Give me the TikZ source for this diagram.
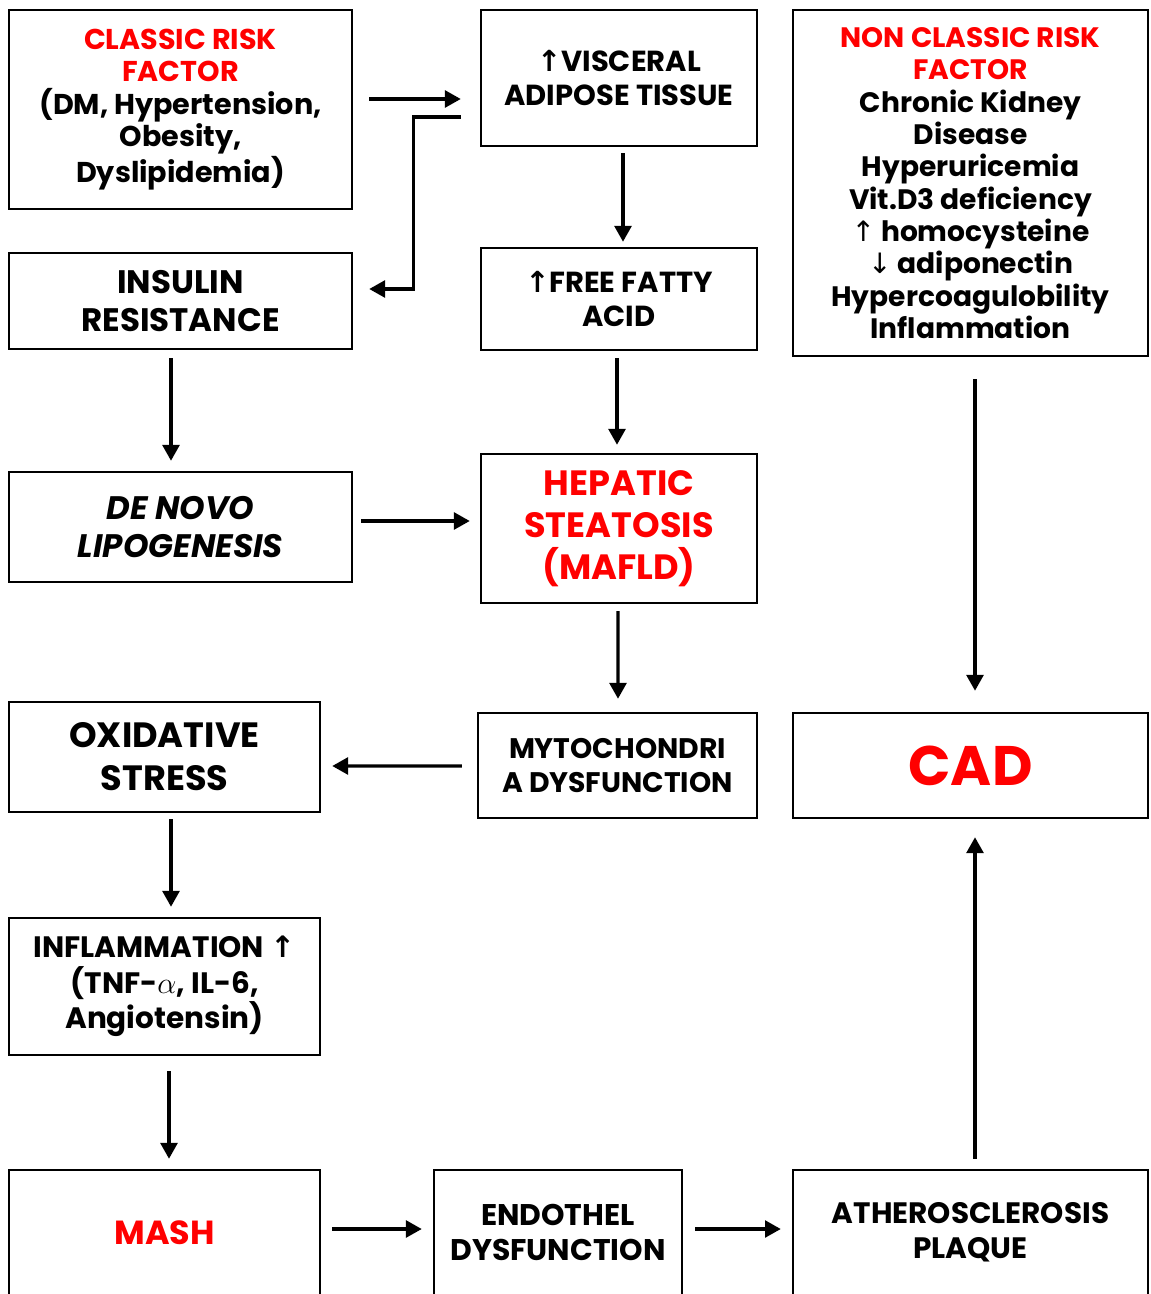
\documentclass[tikz,border=0pt]{standalone}
\usepackage{fontspec}
\setmainfont{Poppins}
\newfontfamily\arrowfont{DejaVu Sans}
\usetikzlibrary{arrows.meta}

\tikzset{
  box/.style={draw, line width=1.4pt, align=center, inner sep=2pt},
  txt/.style 2 args={font=\bfseries\fontsize{#1}{#2}\selectfont},
  redtxt/.style={text=red},
  arr/.style={line width=1.9pt, -{Triangle[length=9pt,width=9.5pt]}}
}
\newcommand{\up}{{\arrowfont\bfseries ↑}}
\newcommand{\thinup}{{\arrowfont\mdseries ↑}}
\newcommand{\thindown}{{\arrowfont\mdseries ↓}}

\begin{document}
\begin{tikzpicture}[x=0.02cm, y=-0.02cm]
\useasboundingbox (0,0) rectangle (1150,1294);
\clip (0,0) rectangle (1150,1294);

% first row
\node [box, txt={16.3}{18.4}, minimum width=6.86cm, minimum height=3.98cm] (classic) at (180.5,109.5)
  {\textcolor{red}{CLASSIC RISK}\\\textcolor{red}{FACTOR}\\(DM, Hypertension,\\Obesity,\\Dyslipidemia)};
\node [box, txt={16.5}{19.8}, minimum width=5.52cm, minimum height=2.72cm] (visceral) at (619,78)
  {\up VISCERAL\\ADIPOSE TISSUE};
\node [box, txt={16}{18.4}, minimum width=7.10cm, minimum height=6.92cm] (nonclassic) at (970.5,183)
  {\textcolor{red}{NON CLASSIC RISK}\\\textcolor{red}{FACTOR}\\Chronic Kidney\\Disease\\Hyperuricemia\\Vit.D3 deficiency\\\thinup\ homocysteine\\\thindown\ adiponectin\\Hypercoagulobility\\Inflammation};

% second row
\node [box, txt={18.5}{22}, minimum width=6.86cm, minimum height=1.92cm] (insulin) at (180.5,301)
  {INSULIN\\RESISTANCE};
\node [box, txt={16.5}{19.8}, minimum width=5.52cm, minimum height=2.04cm] (ffa) at (619,299)
  {\up FREE FATTY\\ACID};

% third row
\node [box, txt={18.5}{22}, minimum width=6.86cm, minimum height=2.20cm] (denovo) at (180.5,527)
  {\itshape DE NOVO\\\itshape LIPOGENESIS};
\node [box, redtxt, txt={20}{23.8}, minimum width=5.52cm, minimum height=2.98cm] (hepatic) at (619,528.5)
  {HEPATIC\\STEATOSIS\\(MAFLD)};

% fourth row
\node [box, txt={20}{24.4}, minimum width=6.22cm, minimum height=2.20cm] (oxidative) at (164.5,757)
  {OXIDATIVE\\STRESS};
\node [box, txt={16.1}{19.8}, minimum width=5.58cm, minimum height=2.10cm] (mito) at (617.5,765.5)
  {MYTOCHONDRI\\A DYSFUNCTION};
\node [box, redtxt, txt={31.7}{38}, minimum width=7.10cm, minimum height=2.10cm] (cad) at (970.5,765.5)
  {CAD};

% fifth row
\node [box, txt={16.8}{20.1}, minimum width=6.22cm, minimum height=2.74cm] (inflam) at (164.5,986.5)
  {INFLAMMATION \up\\(TNF-$\alpha$, IL-6,\\Angiotensin)};

% last row
\node [box, redtxt, txt={19}{22}, minimum width=6.22cm, minimum height=2.50cm] (mash) at (164.5,1232.5)
  {MASH};
\node [box, txt={17}{19.8}, minimum width=4.96cm, minimum height=2.50cm] (endothel) at (558,1232.5)
  {ENDOTHEL\\DYSFUNCTION};
\node [box, txt={16.8}{19.8}, minimum width=7.10cm, minimum height=2.50cm] (athero) at (970.5,1232.5)
  {ATHEROSCLEROSIS\\PLAQUE};

% arrows
\draw [arr] ([shift={(16,-10.5)}]classic.east) -- ([shift={(-19,21)}]visceral.west);
\draw [arr] ([shift={(-19,39)}]visceral.west) -- ++(-47,0) |- ([shift={(16,-12)}]insulin.east);
\draw [arr] ([shift={(4,6)}]visceral.south) -- ([shift={(4,-5)}]ffa.north);
\draw [arr] ([shift={(-9.5,8)}]insulin.south) -- ([shift={(-9.5,-10)}]denovo.north);
\draw [arr] ([shift={(-2,7)}]ffa.south) -- ([shift={(-2,-8)}]hepatic.north);
\draw [arr] ([shift={(8,-6)}]denovo.east) -- ([shift={(-10,-7.5)}]hepatic.west);
\draw [arr] ([shift={(-1,7)}]hepatic.south) -- ([shift={(0.5,-13)}]mito.north);
\draw [arr] ([shift={(-15,0.5)}]mito.west) -- ([shift={(11,9)}]oxidative.east);
\draw [arr] ([shift={(4.5,22)}]nonclassic.south) -- ([shift={(4.5,-21)}]cad.north);
\draw [arr] ([shift={(6.5,6)}]oxidative.south) -- ([shift={(6.5,-10)}]inflam.north);
\draw [arr] ([shift={(4.5,15)}]inflam.south) -- ([shift={(4.5,-10)}]mash.north);
\draw [arr] ([shift={(11,-3.5)}]mash.east) -- ([shift={(-11,-3.5)}]endothel.west);
\draw [arr] ([shift={(12,-3.5)}]endothel.east) -- ([shift={(-11,-3.5)}]athero.west);
\draw [arr] ([shift={(4.5,-10)}]athero.north) -- ([shift={(4.5,18)}]cad.south);
\end{tikzpicture}
\end{document}
